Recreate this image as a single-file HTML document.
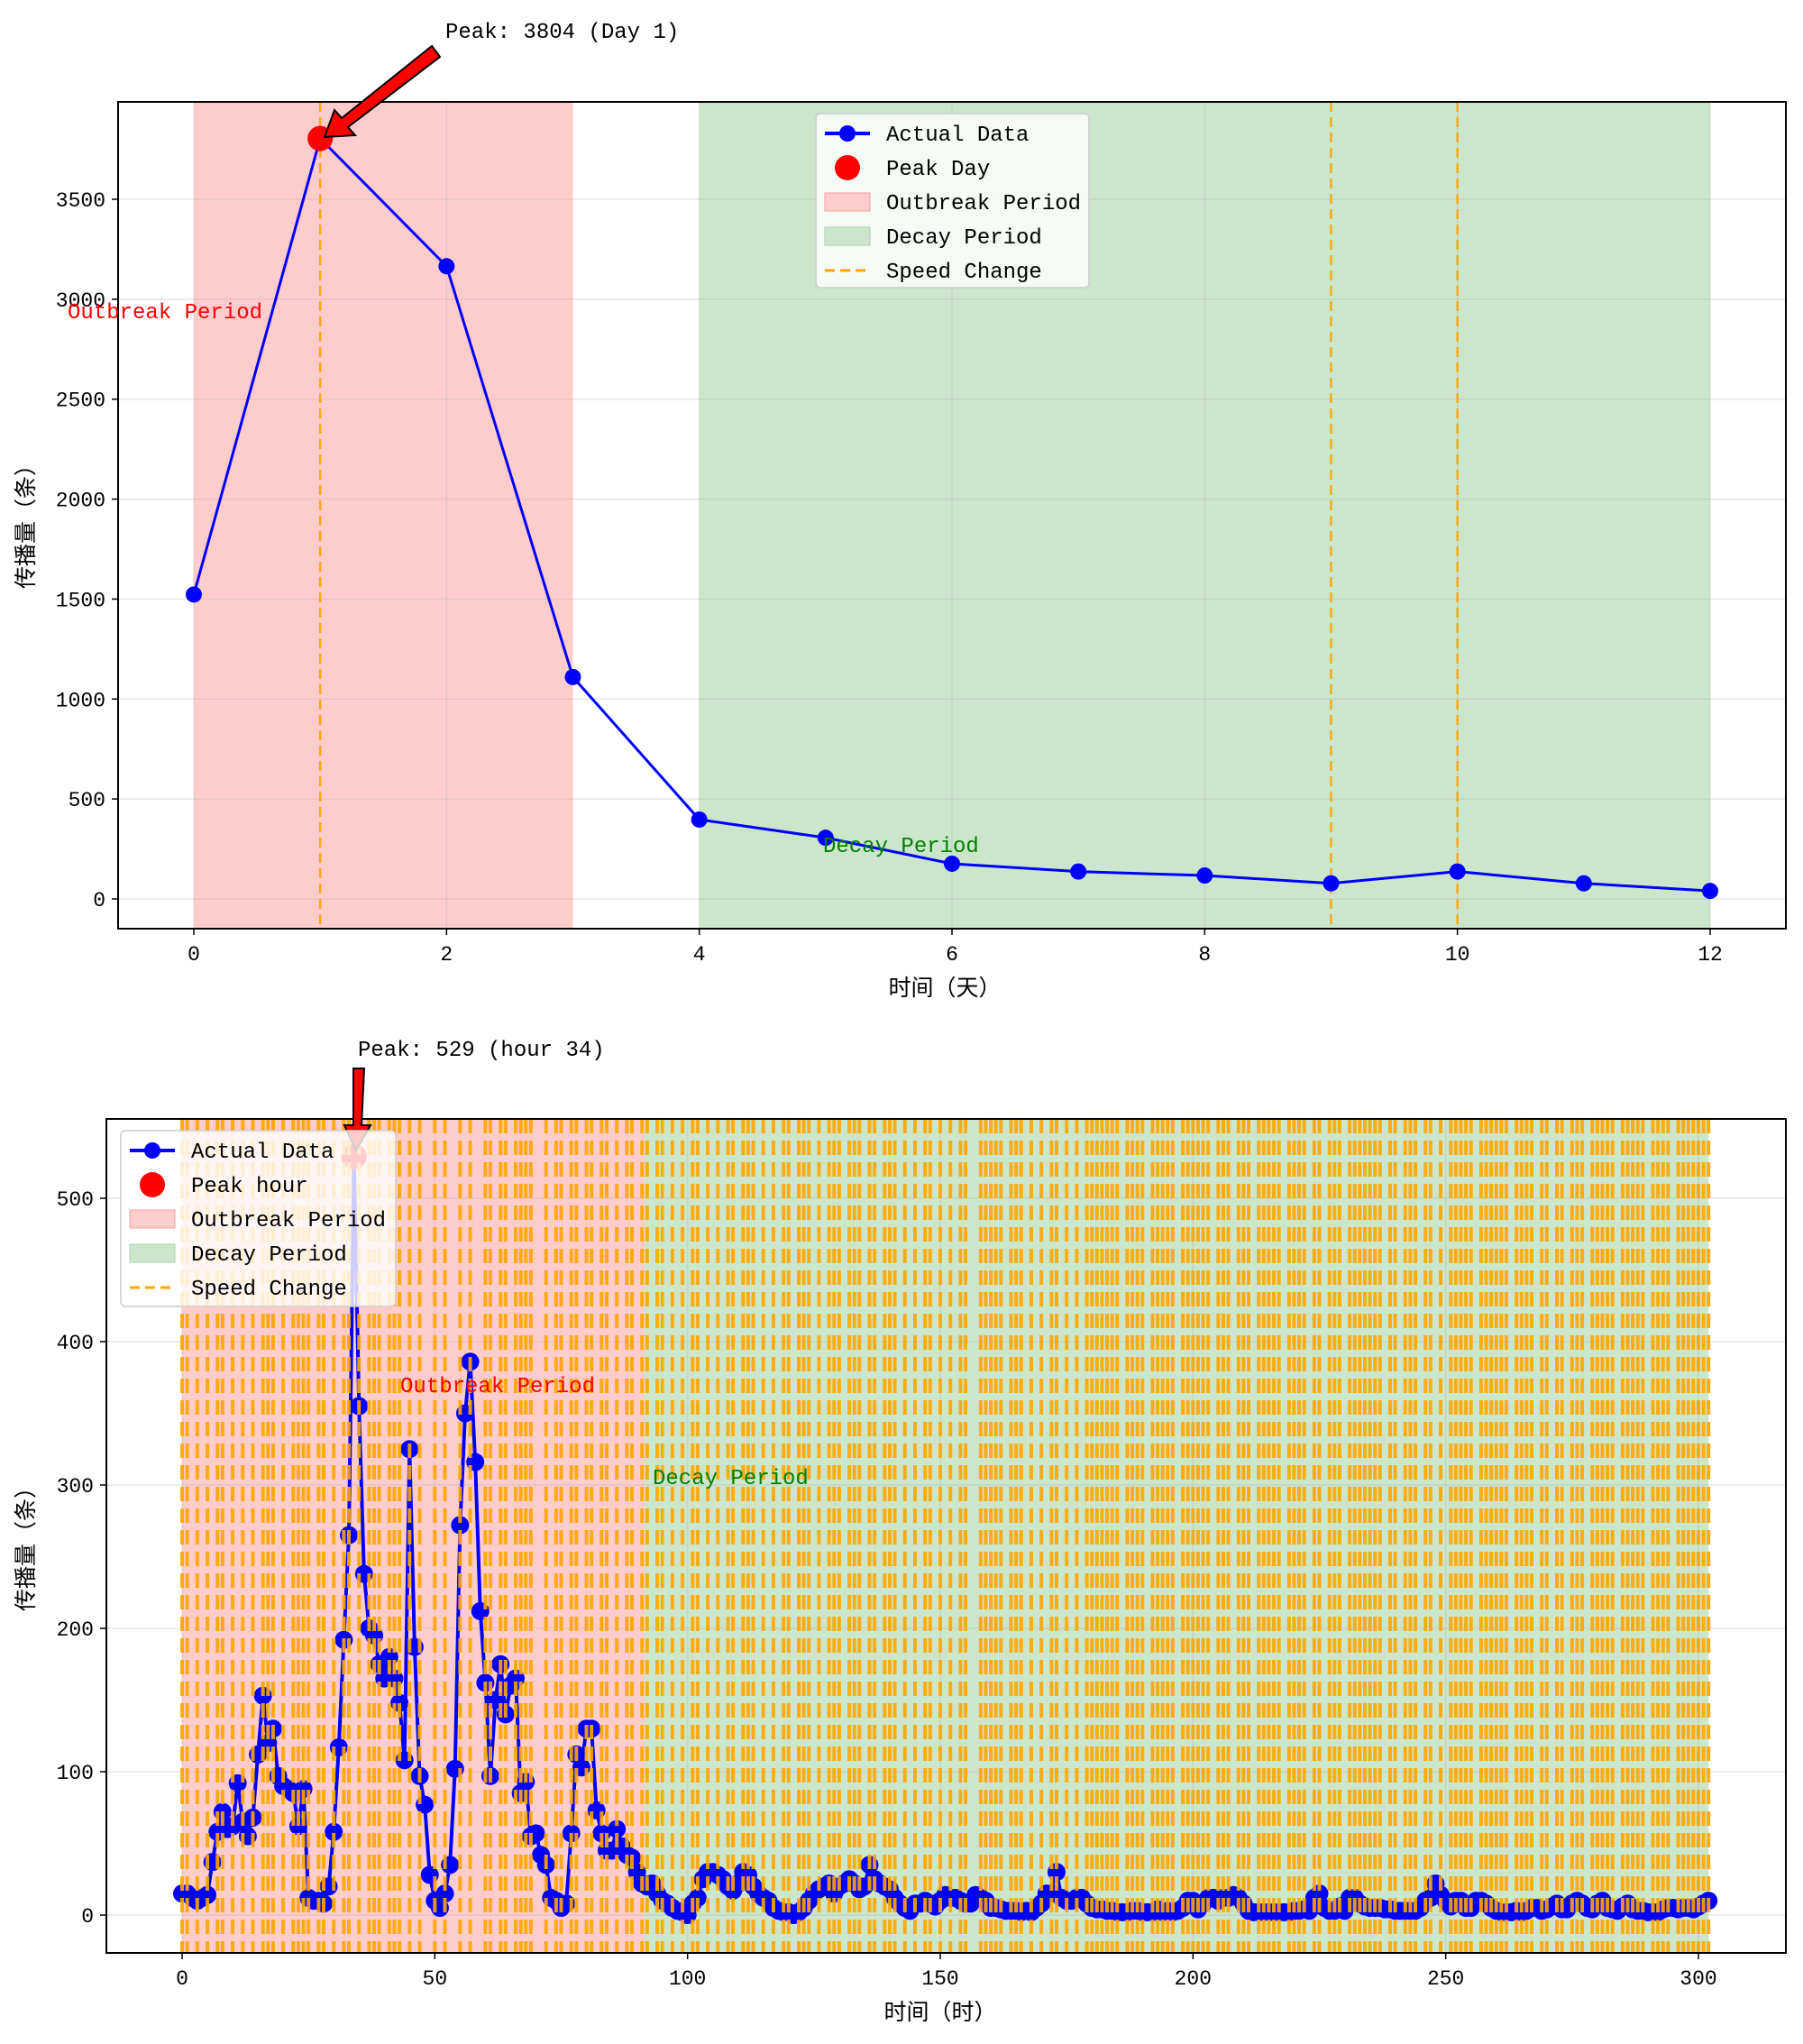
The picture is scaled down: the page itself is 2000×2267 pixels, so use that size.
<!DOCTYPE html>
<html><head><meta charset="utf-8"><style>
html,body{margin:0;padding:0;background:#fff;}
svg{display:block;font-family:"Liberation Mono","Noto Sans CJK SC",monospace;}
</style></head><body>
<svg id="c" width="2000" height="2267" viewBox="0 0 2000 2267" xmlns="http://www.w3.org/2000/svg"></svg>
<script>
// ---- top chart data ----
const dayCats = [0,1,2,3,4,5,6,7,8,9,10,11,12];
const dayValues = [1523,3804,3165,1110,397,306,176,137,117,78,137,78,40];
const dayTicksX = [0,2,4,6,8,10,12];
const dayTicksY = [0,500,1000,1500,2000,2500,3000,3500];
const daySpeedChange = [1,9,10];
const dayOutbreak = [0,3];
const dayDecay = [4,12];
// ---- bottom chart data ----
const hourValues = [15,15,12,10,12,14,37,58,72,60,62,92,65,55,68,112,153,120,130,97,90,88,85,62,88,12,10,10,8,20,58,117,192,265,529,355,238,200,195,175,165,180,165,148,108,325,187,97,77,28,10,5,15,35,102,272,350,386,316,212,162,97,150,175,140,160,165,85,93,55,57,42,35,12,10,5,8,57,112,103,130,130,73,57,45,45,60,48,42,40,30,22,20,
22,15,10,8,5,3,2,0,8,12,25,30,30,28,25,20,17,22,30,28,20,15,12,10,5,3,2,2,0,2,5,10,15,18,20,22,15,20,22,25,22,18,20,35,25,22,20,18,12,8,5,3,8,8,10,8,6,10,14,12,12,10,8,8,14,12,10,5,5,4,3,3,3,2,3,2,5,8,15,15,30,12,10,10,12,12,8,5,4,4,3,3,2,2,2,3,3,2,2,2,4,2,3,
2,3,5,10,10,4,8,12,12,10,12,12,14,12,8,3,2,2,2,2,2,2,2,2,3,3,4,3,12,15,5,3,3,6,3,12,12,8,6,5,5,5,4,4,3,3,3,3,3,5,10,12,22,14,10,6,10,10,5,5,10,10,8,5,3,2,2,2,3,2,3,5,5,3,4,6,8,4,4,8,10,8,5,4,8,10,5,4,3,6,8,4,3,3,2,2,2,4,5,5,4,5,5,4,6,8,10];
const hourTicksX = [0,50,100,150,200,250,300];
const hourTicksY = [0,100,200,300,400,500];
const hourSpeedRanges = [[0,1],[3,3],[5,5],[7,8],[10,10],[12,12],[14,14],[16,18],[20,20],[22,25],[27,28],[30,30],[32,33],[35,35],[37,39],[41,43],[45,45],[47,47],[50,50],[52,52],[55,55],[57,57],[60,61],[63,64],[66,69],[72,72],[74,75],[77,78],[80,81],[83,84],[86,86],[88,89],[91,92],[94,95],[97,97],[99,99],[101,102],[104,104],[106,106],[108,109],[111,113],[115,115],[117,117],[119,120],[122,124],[126,126],[128,130],[132,134],[136,137],[139,141],[143,143],[145,145],[147,148],[150,150],[152,152],[154,155],[158,162],[164,166],[168,168],[170,170],[172,173],[175,175],[177,177],[179,185],[187,190],[192,196],[198,203],[205,207],[209,211],[213,217],[219,222],[224,225],[227,229],[231,237],[239,240],[242,244],[246,247],[249,249],[251,255],[257,262],[264,267],[269,270],[272,273],[275,277],[279,283],[285,289],[291,294],[296,302]];
const hourOutbreak = [0,91.5];
const hourDecay = [91.5,302];
const hourPeak = 34;

const NS="http://www.w3.org/2000/svg";
const svg=document.getElementById('c');
function mk(tag,attrs,parent,name,inter){
  const e=document.createElementNS(NS,tag);
  for(const k in attrs) e.setAttribute(k,attrs[k]);
  
  
  (parent||svg).appendChild(e);return e;
}
function txt(x,y,s,attrs,name){const t=mk('text',Object.assign({x:x,y:y},attrs),svg,name,false);t.textContent=s;return t;}

function drawChart(o){
  const X=v=>o.x0+(v-o.dx0)*(o.x1-o.x0)/(o.dx1-o.dx0);
  const Y=v=>o.y0+(v-o.dy0)*(o.y1-o.y0)/(o.dy1-o.dy0);
  const L=o.L,R=o.R,T=o.T,B=o.B;
  mk('rect',{x:X(o.outb[0]),y:T,width:X(o.outb[1])-X(o.outb[0]),height:B-T,fill:'#ffcccc'},svg,o.p+'outbreak-shade',false);
  mk('rect',{x:X(o.dec[0]),y:T,width:X(o.dec[1])-X(o.dec[0]),height:B-T,fill:'#cce6cc'},svg,o.p+'decay-shade',false);
  o.ty.forEach(v=>mk('line',{x1:L,x2:R,y1:Y(v),y2:Y(v),stroke:'#b0b0b0','stroke-opacity':0.3,'stroke-width':1.5},svg,o.p+'grid-y',false));
  o.tx.forEach(v=>mk('line',{x1:X(v),x2:X(v),y1:T,y2:B,stroke:'#b0b0b0','stroke-opacity':0.3,'stroke-width':1.5},svg,o.p+'grid-x',false));
  const drawSpeed=()=>o.speed.forEach(v=>mk('line',{x1:X(v),x2:X(v),y1:T,y2:B,stroke:'#ffa500','stroke-width':o.sw,'stroke-dasharray':o.dash,'stroke-opacity':0.9},svg,o.p+'speed-change-line',false));
  if(!o.speedTop) drawSpeed();
  const pts=o.vals.map((v,i)=>X(i)+','+Y(v)).join(' ');
  mk('polyline',{points:pts,fill:'none',stroke:'#0000ff','stroke-width':o.lw},svg,o.p+'actual-data-line',false);
  o.vals.forEach((v,i)=>mk('circle',{cx:X(i),cy:Y(v),r:o.mr,fill:'#0000ff'},svg,o.p+'data-point',true));
  mk('circle',{cx:X(o.peak),cy:Y(o.vals[o.peak]),r:o.pr,fill:'#ff0000'},svg,o.p+'peak-marker',true);
  if(o.speedTop) drawSpeed();
  mk('rect',{x:L,y:T,width:R-L,height:B-T,fill:'none',stroke:'#000','stroke-width':2},svg,o.p+'plot-frame',false);
  o.tx.forEach(v=>{mk('line',{x1:X(v),x2:X(v),y1:B,y2:B+7,stroke:'#000','stroke-width':1.5},svg,o.p+'x-tick',false);
    txt(X(v),B+35,String(v),{'text-anchor':'middle','font-size':23,fill:'#000'},o.p+'x-tick-label');});
  o.ty.forEach(v=>{mk('line',{x1:L-7,x2:L,y1:Y(v),y2:Y(v),stroke:'#000','stroke-width':1.5},svg,o.p+'y-tick',false);
    txt(L-14,Y(v)+8,String(v),{'text-anchor':'end','font-size':23,fill:'#000'},o.p+'y-tick-label');});
  return {X,Y};
}

drawChart({p:'daily-',L:131,R:1981,T:113,B:1030,x0:215,x1:1897,dx0:0,dx1:12,y0:997,y1:221,dy0:0,dy1:3500,
  outb:dayOutbreak,dec:dayDecay,tx:dayTicksX,ty:dayTicksY,speed:daySpeedChange,vals:dayValues,peak:1,
  lw:3,mr:9,pr:14,sw:2.5,dash:'11,6',speedTop:false});
txt(75,353,'Outbreak Period',{'font-size':24,fill:'#ff0000'},'daily-outbreak-label');
txt(913,945,'Decay Period',{'font-size':24,fill:'#008000'},'daily-decay-label');
txt(1048,1104,'时间（天）',{'text-anchor':'middle','font-size':25,fill:'#000'},'daily-x-axis-title');
txt(0,0,'传播量（条）',{'text-anchor':'middle','font-size':25,fill:'#000',transform:'translate(37,578) rotate(-90)'},'daily-y-axis-title');
txt(494,42,'Peak: 3804 (Day 1)',{'font-size':24,fill:'#000'},'daily-peak-annotation');
mk('polygon',{points:'479,51 488,63 386,141 394,150 360,152 371,122 379,131',fill:'#ff0000',stroke:'#000','stroke-width':2},svg,'daily-peak-arrow',false);

function legend(x,y,w,h,p,peakLabel){
  mk('rect',{x:x,y:y,width:w,height:h,rx:5,fill:'#fff','fill-opacity':0.8,stroke:'#cccccc','stroke-width':1.5},svg,p+'legend-box',false);
  const sy=y+22, dy=38;
  mk('line',{x1:x+10,x2:x+60,y1:sy,y2:sy,stroke:'#0000ff','stroke-width':4},svg,p+'legend-actual-line',false);
  mk('circle',{cx:x+35,cy:sy,r:9,fill:'#0000ff'},svg,p+'legend-actual-marker',false);
  mk('circle',{cx:x+35,cy:sy+dy,r:14,fill:'#ff0000'},svg,p+'legend-peak-marker',false);
  mk('rect',{x:x+10,y:sy+2*dy-10,width:50,height:20,fill:'#ffcccc',stroke:'#f4a0a0'},svg,p+'legend-outbreak-swatch',false);
  mk('rect',{x:x+10,y:sy+3*dy-10,width:50,height:20,fill:'#cce6cc',stroke:'#a8d0a8'},svg,p+'legend-decay-swatch',false);
  mk('line',{x1:x+10,x2:x+60,y1:sy+4*dy,y2:sy+4*dy,stroke:'#ffa500','stroke-width':3,'stroke-dasharray':'11,6'},svg,p+'legend-speed-line',false);
  const labs=['Actual Data',peakLabel,'Outbreak Period','Decay Period','Speed Change'];
  labs.forEach((s,i)=>txt(x+78,sy+i*dy+8,s,{'font-size':24,fill:'#000'},p+'legend-entry'));
}
legend(905,126,303,193,'daily-','Peak Day');

const speedHours=[];hourSpeedRanges.forEach(r=>{for(let h=r[0];h<=r[1];h++)speedHours.push(h);});
drawChart({p:'hourly-',L:118,R:1981,T:1241,B:2166,x0:202,x1:1884,dx0:0,dx1:300,y0:2124,y1:1329,dy0:0,dy1:500,
  outb:hourOutbreak,dec:hourDecay,tx:hourTicksX,ty:hourTicksY,speed:speedHours,vals:hourValues,peak:hourPeak,
  lw:4,mr:10,pr:14,sw:4,dash:'16,8',speedTop:true});
txt(444,1544,'Outbreak Period',{'font-size':24,fill:'#ff0000'},'hourly-outbreak-label');
txt(724,1646,'Decay Period',{'font-size':24,fill:'#008000'},'hourly-decay-label');
txt(1043,2240,'时间（时）',{'text-anchor':'middle','font-size':25,fill:'#000'},'hourly-x-axis-title');
txt(0,0,'传播量（条）',{'text-anchor':'middle','font-size':25,fill:'#000',transform:'translate(37,1712) rotate(-90)'},'hourly-y-axis-title');
txt(397,1171,'Peak: 529 (hour 34)',{'font-size':24,fill:'#000'},'hourly-peak-annotation');
mk('polygon',{points:'392,1185 404,1185 401,1248 411,1248 395,1276 382,1248 392,1248',fill:'#ff0000',stroke:'#000','stroke-width':2},svg,'hourly-peak-arrow',false);
legend(134,1254,305,195,'hourly-','Peak hour');
</script>
</body></html>
